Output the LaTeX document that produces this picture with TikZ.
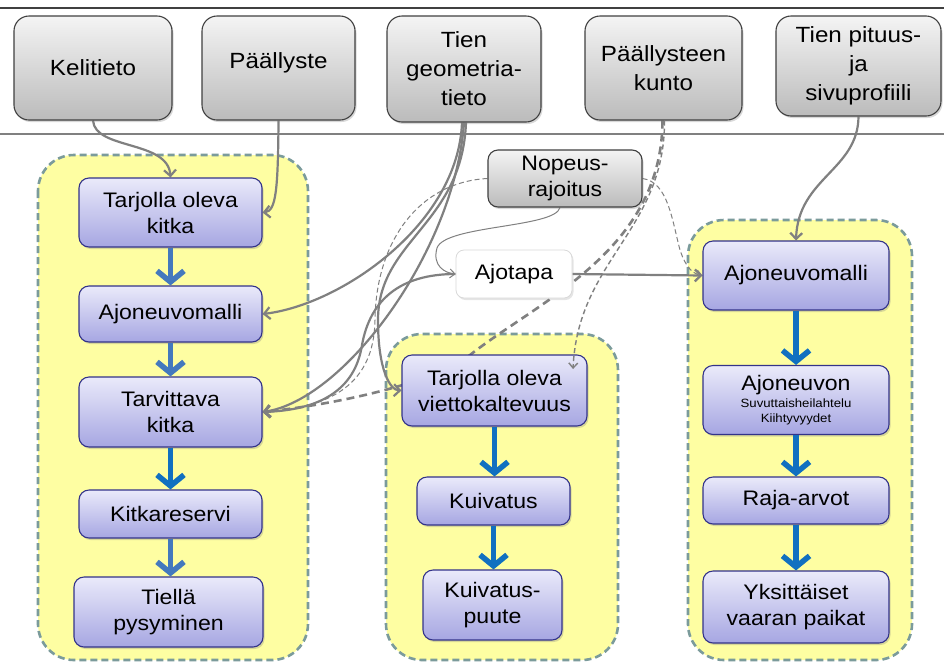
\documentclass[tikz,border=0pt]{standalone}
\usepackage{fontspec}
\setmainfont{Liberation Sans}[FakeStretch=1.1]
\usetikzlibrary{arrows.meta,shadows}
\definecolor{topT}{HTML}{F4F4F4}
\definecolor{topB}{HTML}{BBBBBB}
\definecolor{topBorder}{HTML}{404040}
\definecolor{pT}{HTML}{EAEAFA}
\definecolor{pB}{HTML}{A6A6E2}
\definecolor{pBorder}{HTML}{33338A}
\definecolor{contFill}{HTML}{FEFEA2}
\definecolor{contBorder}{HTML}{7B9B9B}
\definecolor{blueA}{HTML}{4479BD}
\definecolor{blueB}{HTML}{1170C0}
\definecolor{connCol}{HTML}{808080}
\newcommand\tbfont{\fontsize{22}{29}\selectfont}
\newcommand\bxfont{\fontsize{21}{26}\selectfont}
\newcommand\smfont{\fontsize{12}{14}\selectfont}
\pgfdeclarelayer{bg}
\pgfdeclarelayer{mid}
\pgfsetlayers{bg,mid,main}
\begin{document}
\begin{tikzpicture}[x=1pt,y=-1pt,
  topbox/.style={draw=topBorder, line width=1.1pt, rounded corners=15pt, top color=topT, bottom color=topB, align=center, font=\tbfont, inner sep=2pt,
    drop shadow={shadow xshift=1.5pt, shadow yshift=-2pt, opacity=0.3}},
  pbox/.style={draw=pBorder, line width=1.1pt, rounded corners=10pt, top color=pT, bottom color=pB, align=center, font=\bxfont, inner sep=2pt,
    drop shadow={shadow xshift=1.5pt, shadow yshift=-2pt, opacity=0.3}},
  wbox/.style={draw=black!15, line width=0.8pt, rounded corners=8pt, fill=white, align=center, font=\bxfont, inner sep=2pt,
    drop shadow={shadow xshift=1.5pt, shadow yshift=-2pt, opacity=0.2}},
  cont/.style={draw=contBorder, line width=2.6pt, dash pattern=on 7pt off 4pt, fill=contFill, rounded corners=36pt},
  bluearr/.style={draw=blueB, line width=5.5pt, -{Straight Barb[length=11pt,width=27pt]}},
  conn/.style={draw=connCol, line width=2.2pt, -{Straight Barb[length=6pt,width=12pt]}},
  thinconn/.style={draw=connCol, line width=1pt, -{Straight Barb[length=5pt,width=9pt]}},
  dashthin/.style={thinconn, dash pattern=on 5pt off 3pt},
  dashthick/.style={draw=connCol, line width=2.6pt, dash pattern=on 8pt off 5pt, -{Straight Barb[length=6pt,width=12pt]}}
]
\useasboundingbox (0,0) rectangle (944,662);

% top boxes
\node[topbox, minimum width=158pt, minimum height=104pt] (kel) at (93,68) {Kelitieto};
\node[topbox, minimum width=153pt, minimum height=104pt] (pal) at (278.5,68) {Päällyste\\[-15pt]\mbox{}};
\node[topbox, minimum width=154pt, minimum height=106pt] (geo) at (464,69) {Tien\\geometria-\\tieto};
\node[topbox, minimum width=157pt, minimum height=104pt] (kun) at (663.5,68) {Päällysteen\\kunto};
\node[topbox, minimum width=165pt, minimum height=100pt] (pit) at (858.5,66) {Tien pituus-\\ja\\sivuprofiili};

% middle singletons
\node[topbox, rounded corners=10pt, font=\bxfont, minimum width=154pt, minimum height=57pt] (nop) at (565,178.5) {Nopeus-\\rajoitus};
\node[wbox, minimum width=116pt, minimum height=48pt] (ajo) at (514,274) {Ajotapa};

% left column
\node[pbox, minimum width=183pt, minimum height=69pt] (tok) at (170.5,212.5) {Tarjolla oleva\\kitka};
\node[pbox, minimum width=183pt, minimum height=56pt] (am1) at (170.5,314) {Ajoneuvomalli};
\node[pbox, minimum width=183pt, minimum height=70pt] (tk) at (170.5,412) {Tarvittava\\kitka};
\node[pbox, minimum width=183pt, minimum height=48pt] (kr) at (170.5,514) {Kitkareservi};
\node[pbox, minimum width=189pt, minimum height=70pt] (tp) at (168.5,612) {Tiellä\\pysyminen};

% middle column
\node[pbox, minimum width=185pt, minimum height=71pt] (vk) at (494.5,390.5) {Tarjolla oleva\\viettokaltevuus};
\node[pbox, minimum width=153pt, minimum height=48pt] (kui) at (493.5,501) {Kuivatus};
\node[pbox, minimum width=139pt, minimum height=70pt] (kp) at (492.5,605) {Kuivatus-\\puute};

% right column
\node[pbox, minimum width=186pt, minimum height=69pt] (am2) at (796,275.5) {Ajoneuvomalli};
\node[pbox, minimum width=186pt, minimum height=69pt] (ajn) at (796,400) {Ajoneuvon\\[-9pt]\smfont Suvuttaisheilahtelu\\[-11pt]\smfont Kiihtyvyydet};
\node[pbox, minimum width=186pt, minimum height=47pt] (raja) at (796,500.5) {Raja-arvot};
\node[pbox, minimum width=186pt, minimum height=72pt] (yks) at (796,607) {Yksittäiset\\vaaran paikat};

\coordinate (vkin) at (573,369);

\begin{pgfonlayer}{bg}
  \fill[white] (0,0) rectangle (944,662);
  \draw[topBorder, line width=2pt] (0,8) -- (944,8);
  \draw[connCol, line width=1.3pt] (0,134) -- (944,134);
  \draw[cont] (38,155) rectangle (308,660);
  \draw[cont] (386,334) rectangle (618,660);
  \draw[cont] (688,220) rectangle (912,660);
\end{pgfonlayer}

\begin{pgfonlayer}{mid}
  \draw[conn] (kel.south) .. controls (95,150) and (168,140) .. (tok.north);
  \draw[conn] (pal.south) .. controls (278,190) and (276,211) .. (tok.east);
  \draw[conn] ([xshift=-2pt]geo.south) .. controls (458,225) and (340,305) .. (am1.east);
  \draw[conn] (geo.south) .. controls (455,250) and (345,400) .. (tk.east);
  \draw[conn] (ajo.west) .. controls (400,274) and (370,300) .. (362,345) .. controls (355,390) and (320,410) .. (tk.east);
  \draw[conn] ([xshift=2pt]geo.south) .. controls (462,225) and (378,240) .. (378,320) .. controls (378,370) and (390,390) .. (vk.west);
  \draw[thinconn] ([xshift=-5pt]nop.south) .. controls (555,228) and (445,225) .. (437,248) .. controls (432,266) and (445,273) .. (ajo.west);
  \draw[dashthin] (nop.west) .. controls (420,182) and (376,240) .. (375,320) .. controls (374,385) and (330,408) .. (tk.east);
  \draw[dashthin] (nop.east) .. controls (668,182) and (672,220) .. (680,250) .. controls (686,268) and (693,274) .. (am2.west);
  \draw[conn] (ajo.east) -- (am2.west);
  \draw[dashthick] ([xshift=-1pt]kun.south) .. controls (662,250) and (540,300) .. (470,355) .. controls (430,385) and (330,405) .. (tk.east);
  \draw[conn] (pit.south) .. controls (858,170) and (798,178) .. (am2.north);
\end{pgfonlayer}

% connector on top of box
\draw[dashthin, line width=1.4pt] ([xshift=1pt]kun.south) .. controls (665,230) and (578,260) .. (vkin);

% blue flow arrows
\draw[bluearr, draw=blueA] (tok.south) -- (am1.north);
\draw[bluearr, draw=blueA] (am1.south) -- (tk.north);
\draw[bluearr] (tk.south) -- (kr.north);
\draw[bluearr, draw=blueA] (kr.south) -- (kr.south |- tp.north);
\draw[bluearr] (vk.south) -- (vk.south |- kui.north);
\draw[bluearr] (kui.south) -- (kui.south |- kp.north);
\draw[bluearr] (am2.south) -- (ajn.north);
\draw[bluearr] (ajn.south) -- (raja.north);
\draw[bluearr] (raja.south) -- (yks.north);
\end{tikzpicture}
\end{document}
